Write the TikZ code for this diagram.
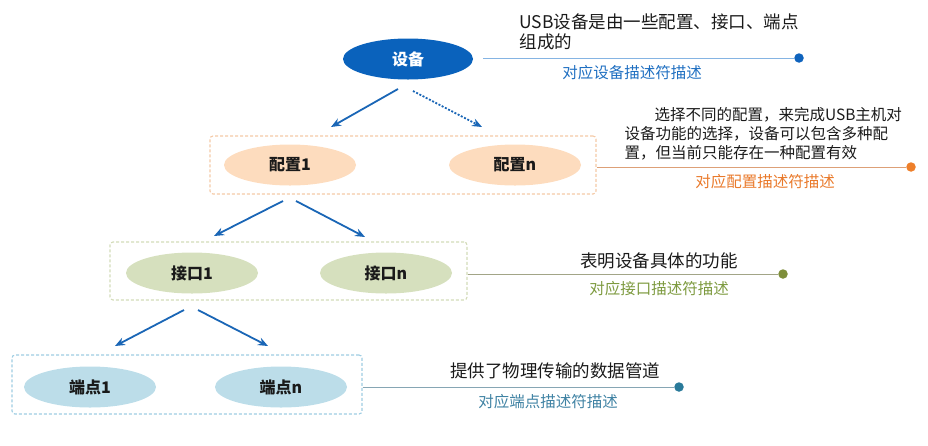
\documentclass[tikz,border=0pt]{standalone}
\usepackage{fontspec}
\setmainfont{Noto Sans CJK SC}
\usetikzlibrary{shapes.geometric,arrows.meta}
\definecolor{devblue}{HTML}{0A62BC}
\definecolor{arrowblue}{HTML}{1A66B6}
\definecolor{cfgfill}{HTML}{FDDCBE}
\definecolor{cfgbox}{HTML}{F4C9A6}
\definecolor{cfgline}{HTML}{DDA077}
\definecolor{cfgdot}{HTML}{EE7F2A}
\definecolor{cfgtext}{HTML}{E9792A}
\definecolor{iffill}{HTML}{D6E0BE}
\definecolor{ifbox}{HTML}{D3DBB8}
\definecolor{ifline}{HTML}{A2A587}
\definecolor{ifdot}{HTML}{7E8E3A}
\definecolor{iftext}{HTML}{7D9A3F}
\definecolor{epfill}{HTML}{BCDDE9}
\definecolor{epbox}{HTML}{9ECDE2}
\definecolor{epline}{HTML}{86A6B4}
\definecolor{epdot}{HTML}{2A7A9A}
\definecolor{eptext}{HTML}{3F82A3}
\definecolor{devline}{HTML}{85B4E3}
\definecolor{devdot}{HTML}{0F63BD}
\definecolor{devtext}{HTML}{1F6FC1}
\definecolor{ink}{HTML}{1A1A1A}
\begin{document}
\begin{tikzpicture}[x=1pt,y=-1pt,
  ell/.style={ellipse, minimum width=132pt, minimum height=41pt, inner sep=0pt,
    font=\fontsize{16}{18}\selectfont\bfseries, text=ink},
  grp/.style={draw, dash pattern=on 3pt off 2pt, line width=1.1pt, rounded corners=3pt,
    inner sep=0pt, minimum height=58pt},
  arr/.style={-{Stealth[length=10pt,width=8pt]}, line width=1.8pt, draw=arrowblue},
  rule/.style={line width=1pt},
  dotn/.style={circle, minimum size=9.5pt, inner sep=0pt},
  lbl/.style={font=\fontsize{17.5}{20}\selectfont, text=ink},
  sub/.style={font=\fontsize{15.5}{19}\selectfont}]
\useasboundingbox (0,0) rectangle (928,445);

% device
\node[ellipse, minimum width=130pt, minimum height=41pt, inner sep=0pt, fill=devblue,
  text=white, font=\fontsize{16}{18}\selectfont\bfseries] (dev) at (408,59) {设备};
\node[dotn, fill=devdot] (dot1) at (799,58) {};
\draw[rule, draw=devline] (dev.east -| 483,0) ++(0,-1) -- (dot1);
\node[lbl, anchor=west, align=left] (devlbl) at (516,32) {USB设备是由一些配置、接口、端点\\组成的};
\node[sub, text=devtext] (devsub) at (632,73) {对应设备描述符描述};

% configuration
\node[grp, draw=cfgbox, minimum width=386pt] (cfgbox) at (403,165) {};
\node[ell, fill=cfgfill] (cfg1) at (290,165) {配置1};
\node[ell, fill=cfgfill] (cfgn) at (515,165) {配置n};
\node[dotn, fill=cfgdot] (dot2) at (911,167) {};
\draw[rule, draw=cfgline] (cfgbox.east |- dot2) -- (dot2);
\node[sub, text=ink, anchor=west, align=left] (cfglbl) at (621,134)
  {\hspace*{30pt}选择不同的配置，来完成USB主机对\\设备功能的选择，设备可以包含多种配\\置，但当前只能存在一种配置有效};
\node[sub, text=cfgtext] (cfgsub) at (765,182) {对应配置描述符描述};

% interface
\node[grp, draw=ifbox, minimum width=357pt] (ifbox) at (288.5,271) {};
\node[ell, fill=iffill] (if1) at (192,273) {接口1};
\node[ell, fill=iffill] (ifn) at (386,273) {接口n};
\node[dotn, fill=ifdot] (dot3) at (783,274) {};
\draw[rule, draw=ifline] (ifbox.east |- dot3) -- (dot3);
\node[lbl] (iflbl) at (659,261) {表明设备具体的功能};
\node[sub, text=iftext] (ifsub) at (659,289) {对应接口描述符描述};

% endpoint
\node[grp, draw=epbox, minimum width=350pt, minimum height=59pt] (epbox) at (187,384.5) {};
\node[ell, fill=epfill] (ep1) at (90,387) {端点1};
\node[ell, fill=epfill] (epn) at (281,387) {端点n};
\node[dotn, fill=epdot] (dot4) at (679,387) {};
\draw[rule, draw=epline] (epbox.east |- dot4) -- (dot4);
\node[lbl] (eplbl) at (555,371) {提供了物理传输的数据管道};
\node[sub, text=eptext] (epsub) at (548,402) {对应端点描述符描述};

% arrows
\coordinate (a1s) at (398,89);  \coordinate (a1e) at (331,127);
\coordinate (a2s) at (413,91);  \coordinate (a2e) at (482,127);
\coordinate (a3s) at (283,201); \coordinate (a3e) at (214,236);
\coordinate (a4s) at (296,201); \coordinate (a4e) at (365,237);
\coordinate (a5s) at (184,310); \coordinate (a5e) at (115,346);
\coordinate (a6s) at (198,310); \coordinate (a6e) at (268,346);
\draw[arr] (a1s) -- (a1e);
\draw[arr, dash pattern=on 2pt off 1.6pt] (a2s) -- (a2e);
\draw[arr] (a3s) -- (a3e);
\draw[arr] (a4s) -- (a4e);
\draw[arr] (a5s) -- (a5e);
\draw[arr] (a6s) -- (a6e);
\end{tikzpicture}
\end{document}
